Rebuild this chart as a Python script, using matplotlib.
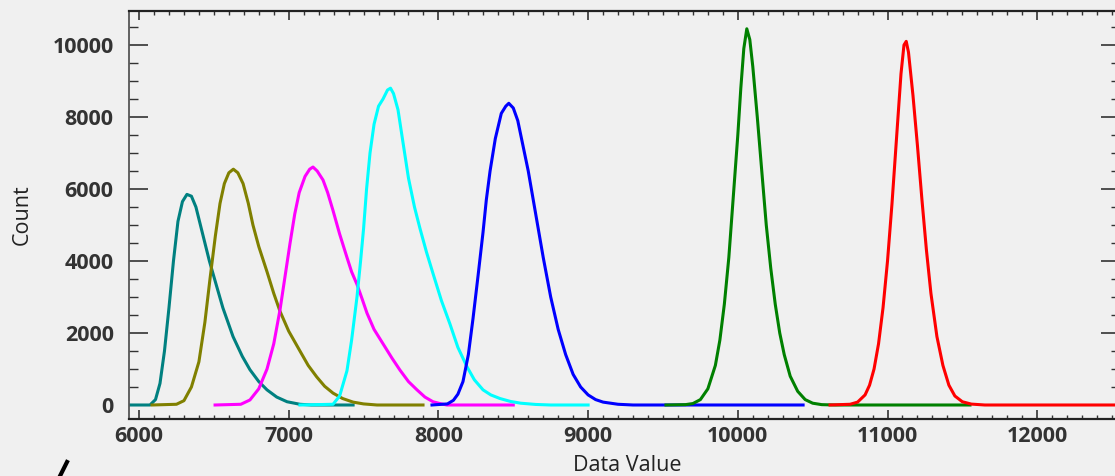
import matplotlib
matplotlib.use("Agg")
import matplotlib.pyplot as plt
from matplotlib.ticker import MultipleLocator
from matplotlib.lines import Line2D

# histogram curves: (data value, count)
teal_x = [5900, 6073, 6110, 6140, 6170, 6200, 6230, 6260, 6290, 6320, 6350, 6380, 6410, 6440, 6470, 6508,
          6560, 6628, 6690, 6741, 6800, 6855, 6920, 6989, 7075, 7150, 7430]
teal_y = [0, 0, 150, 600, 1500, 2700, 4000, 5100, 5650, 5850, 5800, 5500, 5000, 4500, 4000, 3450,
          2700, 1900, 1350, 980, 650, 420, 220, 90, 20, 0, 0]

olive_x = [6087, 6250, 6300, 6350, 6400, 6440, 6474, 6510, 6541, 6570, 6600, 6630, 6660, 6695, 6730, 6761,
           6800, 6855, 6900, 6942, 7000, 7075, 7130, 7187, 7240, 7296, 7360, 7430, 7500, 7590, 7897]
olive_y = [0, 20, 120, 500, 1200, 2300, 3500, 4700, 5600, 6150, 6450, 6550, 6450, 6150, 5600, 5000,
           4400, 3700, 3100, 2600, 2050, 1500, 1100, 780, 520, 330, 180, 80, 30, 0, 0]

magenta_x = [6508, 6680, 6741, 6800, 6855, 6900, 6942, 6980, 7009, 7040, 7070, 7109, 7140, 7162, 7190, 7229,
             7260, 7296, 7340, 7389, 7420, 7456, 7490, 7523, 7570, 7630, 7690, 7743, 7800, 7857, 7910, 7964,
             8020, 8057, 8500]
magenta_y = [0, 20, 140, 450, 1000, 1700, 2650, 3700, 4500, 5300, 5900, 6350, 6550, 6610, 6500, 6250,
             5900, 5400, 4750, 4100, 3700, 3350, 2950, 2550, 2100, 1700, 1300, 970, 650, 420, 220, 90,
             30, 0, 0]

cyan_x = [7075, 7296, 7340, 7389, 7420, 7456, 7480, 7500, 7520, 7543, 7570, 7600, 7630, 7660, 7680, 7700,
          7730, 7763, 7800, 7840, 7877, 7920, 7964, 8020, 8077, 8130, 8191, 8240, 8298, 8350, 8411, 8480,
          8550, 8650, 8750, 9000]
cyan_y = [0, 20, 250, 950, 1800, 3000, 4000, 4900, 6000, 7000, 7800, 8300, 8500, 8750, 8800, 8650,
          8200, 7300, 6300, 5500, 4900, 4250, 3650, 2900, 2250, 1600, 1060, 700, 420, 280, 180, 100,
          50, 15, 0, 0]

blue_x = [7957, 8060, 8100, 8130, 8164, 8200, 8231, 8265, 8298, 8320, 8345, 8380, 8420, 8450, 8470, 8500,
          8530, 8560, 8600, 8650, 8700, 8750, 8800, 8850, 8900, 8950, 9000, 9050, 9100, 9200, 9300, 10436]
blue_y = [0, 30, 130, 300, 650, 1400, 2400, 3600, 4800, 5700, 6500, 7400, 8100, 8300, 8380, 8250,
          7900, 7300, 6500, 5300, 4100, 3000, 2100, 1400, 850, 500, 280, 150, 80, 20, 0, 0]

green_x = [9520, 9650, 9700, 9750, 9800, 9850, 9880, 9910, 9940, 9970, 10000, 10020, 10040, 10060, 10080,
           10100, 10130, 10160, 10190, 10220, 10250, 10280, 10310, 10350, 10400, 10450, 10500, 10560, 10650,
           11551]
green_y = [0, 10, 40, 150, 450, 1100, 1800, 2800, 4100, 5800, 7500, 8800, 9900, 10450, 10150,
           9400, 8000, 6500, 5000, 3800, 2800, 2000, 1400, 800, 380, 150, 50, 10, 0,
           0]

red_x = [10616, 10750, 10800, 10850, 10880, 10910, 10940, 10970, 11000, 11030, 11060, 11090, 11110, 11125,
         11140, 11170, 11200, 11230, 11260, 11290, 11330, 11370, 11410, 11450, 11500, 11560, 11650, 12600]
red_y = [0, 20, 80, 280, 550, 1000, 1700, 2700, 4000, 5600, 7400, 9200, 10000, 10100,
         9800, 8600, 7200, 5700, 4300, 3100, 1900, 1100, 550, 250, 90, 25, 0, 0]

series = [
    (teal_x, teal_y, '#008080'),
    (olive_x, olive_y, '#808000'),
    (magenta_x, magenta_y, '#FF00FF'),
    (cyan_x, cyan_y, '#00FFFF'),
    (blue_x, blue_y, '#0000FF'),
    (green_x, green_y, '#008000'),
    (red_x, red_y, '#FF0000'),
]

BG = '#F0F0F0'
TXT = '#333333'
plt.rcParams['font.family'] = ['Open Sans', 'DejaVu Sans']

fig = plt.figure(figsize=(11.15, 4.76), dpi=100, facecolor=BG)
ax = fig.add_axes([129 / 1115, 1 - 419 / 476, 991 / 1115, 408 / 476])
ax.set_facecolor(BG)

for xs, ys, color in series:
    ax.plot(xs, ys, color=color, linewidth=2.2, solid_joinstyle='round')

ax.set_xlim(5933, 12553)
ax.set_ylim(-389, 10944)

ax.xaxis.set_major_locator(MultipleLocator(1000))
ax.xaxis.set_minor_locator(MultipleLocator(100))
ax.yaxis.set_major_locator(MultipleLocator(2000))
ax.yaxis.set_minor_locator(MultipleLocator(500))

ax.tick_params(which='both', direction='in', top=True, right=True,
               colors='#333333', labelcolor=TXT, labelsize=15.5)
ax.tick_params(axis='x', which='major', length=6.5, width=1.2, pad=5)
ax.tick_params(axis='x', which='minor', length=2.8, width=1.0)
ax.tick_params(axis='y', which='major', length=13.5, width=1.2, pad=11)
ax.tick_params(axis='y', which='minor', length=6.5, width=1.0)
for lab in ax.get_xticklabels() + ax.get_yticklabels():
    lab.set_fontweight('bold')

for side in ['top', 'bottom']:
    ax.spines[side].set_linewidth(1.6)
    ax.spines[side].set_color('#222222')
for side in ['left', 'right']:
    ax.spines[side].set_linewidth(1.3)
    ax.spines[side].set_color('#555555')

ax.set_ylabel('Count', fontsize=15.5, color='#222222', va='center')
ax.yaxis.set_label_coords(-0.108, 0.5)
ax.set_xlabel('Data Value', fontsize=15.5, color='#222222', va='center')
ax.xaxis.set_label_coords(0.5025, -0.113)

# stray stroke at the lower left corner of the screenshot
fig.add_artist(Line2D([60 / 1115, 67 / 1115], [0.0, 1 - 462 / 476],
                      transform=fig.transFigure, color='black', linewidth=3))

plt.savefig('out.png', dpi=100, facecolor=BG)
plt.close()
